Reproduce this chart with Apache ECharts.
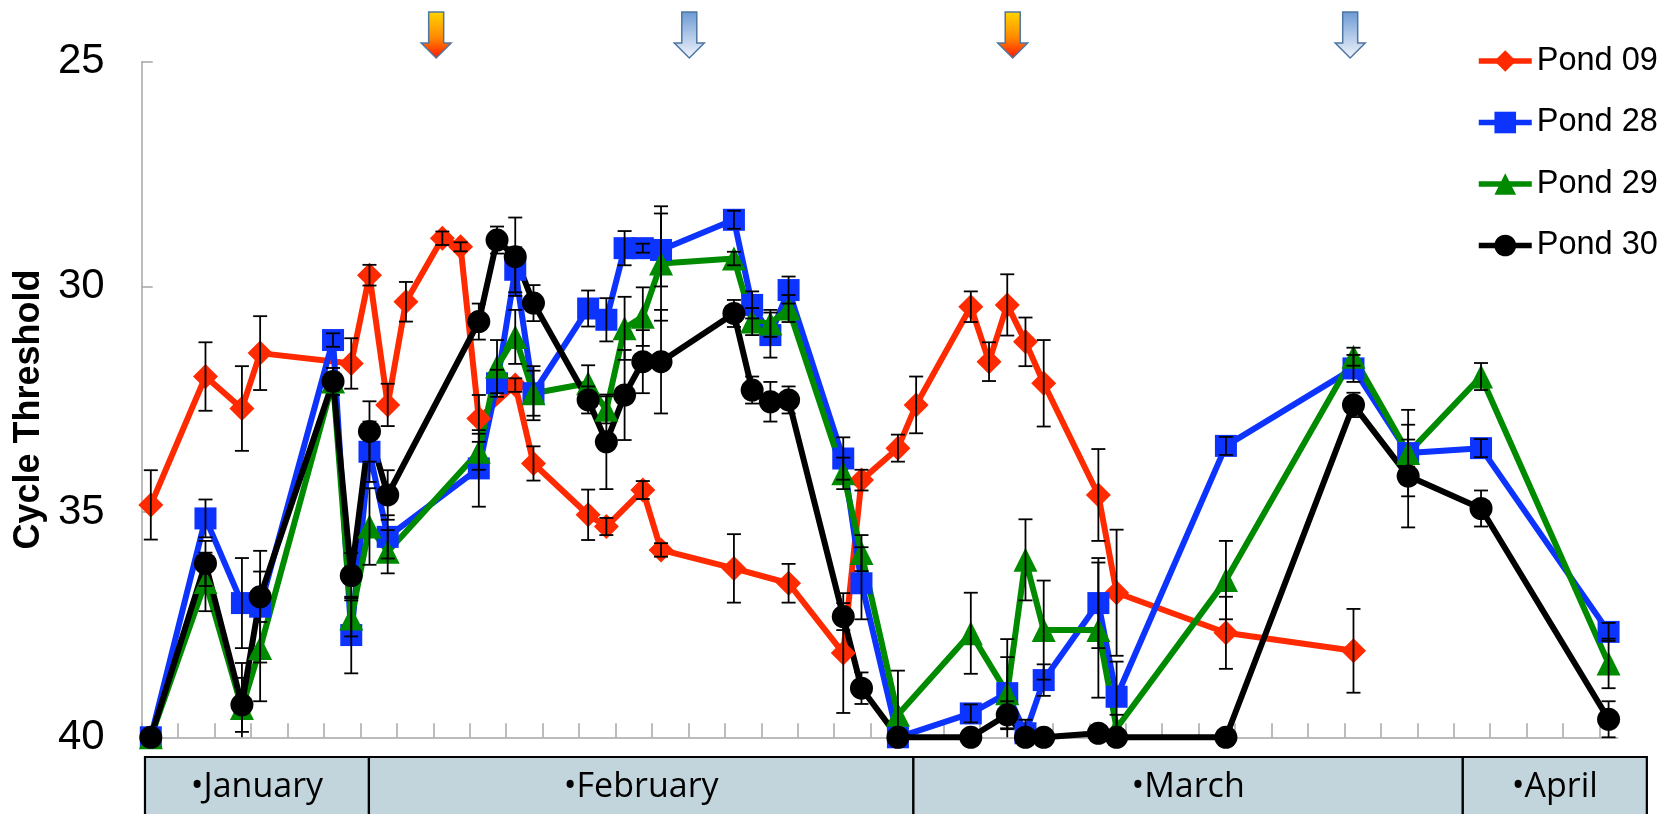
<!DOCTYPE html>
<html>
<head>
<meta charset="utf-8">
<script src="https://cdn.jsdelivr.net/npm/echarts@6/dist/echarts.min.js"></script>
<style>
  html, body { margin: 0; padding: 0; background: #ffffff; }
  #chart { width: 1665px; height: 814px; }
</style>
</head>
<body>
<div id="chart"></div>
<script>
// Sampling days (days counted from the first sampling date)
const sampleDays = [0, 3, 5, 6, 10, 11, 12, 13, 14, 16, 17, 18, 19, 20, 21, 24, 25, 26, 27, 28,
                    32, 33, 34, 35, 38, 39, 41, 42, 45, 46, 47, 48, 49, 52, 53, 59, 66, 69, 73, 80];

// Mean cycle threshold per pond (null = not sampled that day)
const pond09 = [34.84, 31.99, 32.70, 31.47, null, 31.70, 29.74, 32.62, 30.33, 28.92, 29.11, 32.92, null, 32.18, 33.92, 35.06, 35.32, null, 34.51, 35.84,
                36.25, null, null, 36.58, 38.13, 34.29, 33.58, 32.62, 30.44, 31.66, 30.40, 31.22, 32.14, 34.62, 36.79, 37.68, 38.08, null, null, null];
const pond28 = [40, 35.14, 37.02, 37.10, 31.18, 37.73, 33.66, 35.55, null, null, null, 34.03, 32.14, 29.62, 32.36, 30.48, 30.73, 29.14, 29.14, 29.18,
                28.51, 30.40, 31.07, 30.07, 33.81, 36.58, 40, null, 39.47, null, 39.02, 39.91, 38.73, 37.02, 39.10, 33.53, 31.81, 33.69, 33.58, 37.66];
const pond29 = [40, 36.55, 39.35, 38.02, 32.10, 37.36, 35.32, 35.88, null, null, null, 33.66, 31.77, 31.11, 32.36, 32.14, 32.73, 30.92, 30.66, 29.48,
                29.37, 30.77, 30.81, 30.48, 34.14, 35.91, 39.50, null, 37.69, null, 39.02, 36.06, 37.62, 37.62, 39.80, 36.51, 31.55, 33.69, 31.99, 38.36];
const pond30 = [40, 36.14, 39.28, 36.88, 32.10, 36.41, 33.21, 34.62, null, null, null, 30.77, 28.96, 29.33, 30.36, 32.51, 33.44, 32.40, 31.66, 31.66,
                30.59, 32.29, 32.55, 32.51, 37.32, 38.91, 40, null, 40, null, 39.50, 40, 40, 39.91, 40, 40, 32.62, 34.20, 34.92, 39.60];

// Error (± Ct) per point
const pond09Err = [0.77, 0.76, 0.94, 0.82, null, 0.56, 0.23, 0.47, 0.44, 0.15, 0.10, 0.52, null, 0.15, 0.38, 0.56, 0.19, null, 0.20, 0.15,
                   0.76, null, null, 0.43, 1.33, 0.23, 0.30, 0.63, 0.34, 0.43, 0.68, 0.54, 0.96, 1.02, 1.40, 0.80, 0.93, null, null, null];
const pond28Err = [0, 0.42, 1.00, 1.24, 0.15, 0.85, 0.67, 0.48, null, null, null, 0.85, 0.30, 0.50, 0.60, 0.40, 0.48, 0.38, 0.10, 0.81,
                   0.20, 0.30, 0.50, 0.30, 0.47, 0.80, 0, null, 0.20, null, 0.80, 0.30, 0.35, 1.00, 0.78, 0.20, 0.30, 0.96, 0.20, 0.20];
const pond29Err = [0, 0.65, 1.00, 1.18, 0.30, 0.40, 0.85, 0.48, null, null, null, 0.40, 0.59, 0.60, 0.50, 0.40, 0.30, 0.70, 0.65, 1.27,
                   0.15, 0.30, 0.30, 0.30, 0.35, 0.40, 0.98, null, 0.90, null, 1.20, 0.90, 1.10, 1.50, 0.30, 0.87, 0.20, 0.30, 0.30, 0.55];
const pond30Err = [0, 0.50, 0.60, 0.56, 0.20, 0.50, 0.67, 0.55, null, null, null, 0.40, 0.30, 0.87, 0.40, 0.30, 1.05, 1.00, 0.70, 1.15,
                   0.30, 0.30, 0.44, 0.30, 0.30, 0.35, 0, null, 0, null, 0.30, 0, 0, 0.10, 0, 0, 0.27, 1.14, 0.40, 0.40];

const seriesNames = ['Pond 09', 'Pond 28', 'Pond 29', 'Pond 30'];
const yTicks = [25, 30, 35, 40];

// Month bands under the time axis (edges in days)
const monthNames = ['January', 'February', 'March', 'April'];
const monthEdges = [-0.32, 11.97, 41.85, 72.0, 82.1];

// Event markers above the plot (days)
const warmArrowDays = [15.66, 47.3];
const coolArrowDays = [29.55, 65.82];

const FONT = '"Liberation Sans", Arial, Helvetica, sans-serif';
const dayCenter = d => d + 0.5;          // each sample sits in the middle of its day slot
const X_MAX = 81;
const xTickValues = [];
for (let v = 0; v <= 80; v += 2) xTickValues.push(v);

const ponds = [
  { name: seriesNames[0], values: pond09, err: pond09Err, color: '#ff2a00', symbol: 'diamond',  size: 25 },
  { name: seriesNames[1], values: pond28, err: pond28Err, color: '#0d33ff', symbol: 'rect',     size: 22 },
  { name: seriesNames[2], values: pond29, err: pond29Err, color: '#008a00', symbol: 'triangle', size: 24 },
  { name: seriesNames[3], values: pond30, err: pond30Err, color: '#000000', symbol: 'circle',   size: 23 }
];

function points(vals) {
  const out = [];
  sampleDays.forEach((d, i) => { if (vals[i] != null) out.push([dayCenter(d), vals[i]]); });
  return out;
}
function errorPoints(vals, errs) {
  const out = [];
  sampleDays.forEach((d, i) => {
    if (vals[i] != null && errs[i] != null && errs[i] > 0) out.push([dayCenter(d), vals[i], errs[i]]);
  });
  return out;
}

const lineSeries = ponds.map(p => ({
  name: p.name,
  type: 'line',
  data: points(p.values),
  symbol: p.symbol,
  symbolSize: p.size,
  showAllSymbol: true,
  clip: false,
  color: p.color,
  lineStyle: { color: p.color, width: 6 },
  itemStyle: { color: p.color },
  z: 3
}));

function renderErrorBar(params, api) {
  const x = api.value(0), y = api.value(1), e = api.value(2);
  const lo = Math.min(y + e, 40);
  const top = api.coord([x, y - e]);
  const bot = api.coord([x, lo]);
  const hw = 7;
  const st = { stroke: '#000', lineWidth: 1.8 };
  const children = [
    { type: 'line', shape: { x1: top[0], y1: top[1], x2: bot[0], y2: bot[1] }, style: st },
    { type: 'line', shape: { x1: top[0] - hw, y1: top[1], x2: top[0] + hw, y2: top[1] }, style: st }
  ];
  if (y + e <= 40) children.push({ type: 'line', shape: { x1: bot[0] - hw, y1: bot[1], x2: bot[0] + hw, y2: bot[1] }, style: st });
  return { type: 'group', children };
}

const errorSeries = ponds.map(p => ({
  name: p.name + ' error',
  type: 'custom',
  renderItem: renderErrorBar,
  data: errorPoints(p.values, p.err),
  clip: false,
  silent: true,
  z: 4
}));

const chart = echarts.init(document.getElementById('chart'), null, { renderer: 'canvas' });

chart.setOption({
  animation: false,
  backgroundColor: '#ffffff',
  grid: { left: 141.7, right: 47.3, top: 61.7, bottom: 76.7, containLabel: false },
  legend: {
    data: seriesNames,
    orient: 'vertical',
    left: 1476,
    top: 44.5,
    padding: 0,
    itemWidth: 53,
    itemHeight: 27,
    itemGap: 28.5,
    lineStyle: { width: 5.5 },
    textStyle: { fontFamily: FONT, fontSize: 32.5, color: '#000' }
  },
  xAxis: {
    type: 'value',
    min: 0,
    max: X_MAX,
    axisLine: { show: true, lineStyle: { color: '#a6a6a6', width: 1.5 } },
    axisTick: { show: true, inside: true, length: 14, customValues: xTickValues, lineStyle: { color: '#a6a6a6', width: 1.5 } },
    axisLabel: { show: false },
    splitLine: { show: false }
  },
  yAxis: {
    type: 'value',
    inverse: true,
    min: yTicks[0],
    max: yTicks[yTicks.length - 1],
    interval: 5,
    name: 'Cycle Threshold',
    nameLocation: 'middle',
    nameRotate: 90,
    nameGap: 95,
    nameTextStyle: { fontFamily: FONT, fontSize: 36, fontWeight: 'bold', color: '#000', padding: [0, 20, 0, 0] },
    axisLine: { show: true, lineStyle: { color: '#a6a6a6', width: 1.5 } },
    axisTick: { show: true, inside: true, length: 11, lineStyle: { color: '#a6a6a6', width: 1.5 } },
    axisLabel: { fontFamily: FONT, fontSize: 42, color: '#000', margin: 37 },
    splitLine: { show: false }
  },
  series: lineSeries.concat(errorSeries)
});

// Month bands and event arrows, placed through the x axis scale
function xPix(day) { return chart.convertToPixel({ xAxisIndex: 0 }, dayCenter(day)); }

function arrow(cx, fillStops) {
  return {
    type: 'polygon',
    shape: { points: [[cx - 7.5, 12], [cx + 7.5, 12], [cx + 7.5, 43], [cx + 15, 43], [cx, 58], [cx - 15, 43], [cx - 7.5, 43]] },
    style: {
      fill: { type: 'linear', x: 0, y: 0, x2: 0, y2: 1, colorStops: fillStops },
      stroke: '#4f76a3',
      lineWidth: 1.5
    },
    z: 20
  };
}

const graphics = [];
const bandTop = 757, bandBottom = 840;
for (let i = 0; i < monthNames.length; i++) {
  const x0 = xPix(monthEdges[i]);
  const x1 = xPix(monthEdges[i + 1]);
  graphics.push({
    type: 'rect',
    shape: { x: x0, y: bandTop, width: x1 - x0, height: bandBottom - bandTop },
    style: { fill: '#c2d5dc', stroke: '#000', lineWidth: 2.2 },
    z: 10
  });
  graphics.push({
    type: 'text',
    x: (x0 + x1) / 2,
    y: 787,
    style: {
      text: '\u2022' + monthNames[i],
      fontFamily: '"Open Sans", "Noto Sans", sans-serif',
      fontSize: 34,
      fill: '#000',
      textAlign: 'center',
      textVerticalAlign: 'middle'
    },
    z: 11
  });
}
warmArrowDays.forEach(d => graphics.push(arrow(xPix(d), [
  { offset: 0, color: '#ffd600' }, { offset: 0.55, color: '#ff8a00' }, { offset: 1, color: '#ff1400' }
])));
coolArrowDays.forEach(d => graphics.push(arrow(xPix(d), [
  { offset: 0, color: '#6b99d3' }, { offset: 1, color: '#f3f6fc' }
])));

chart.setOption({ graphic: graphics });
</script>
</body>
</html>
